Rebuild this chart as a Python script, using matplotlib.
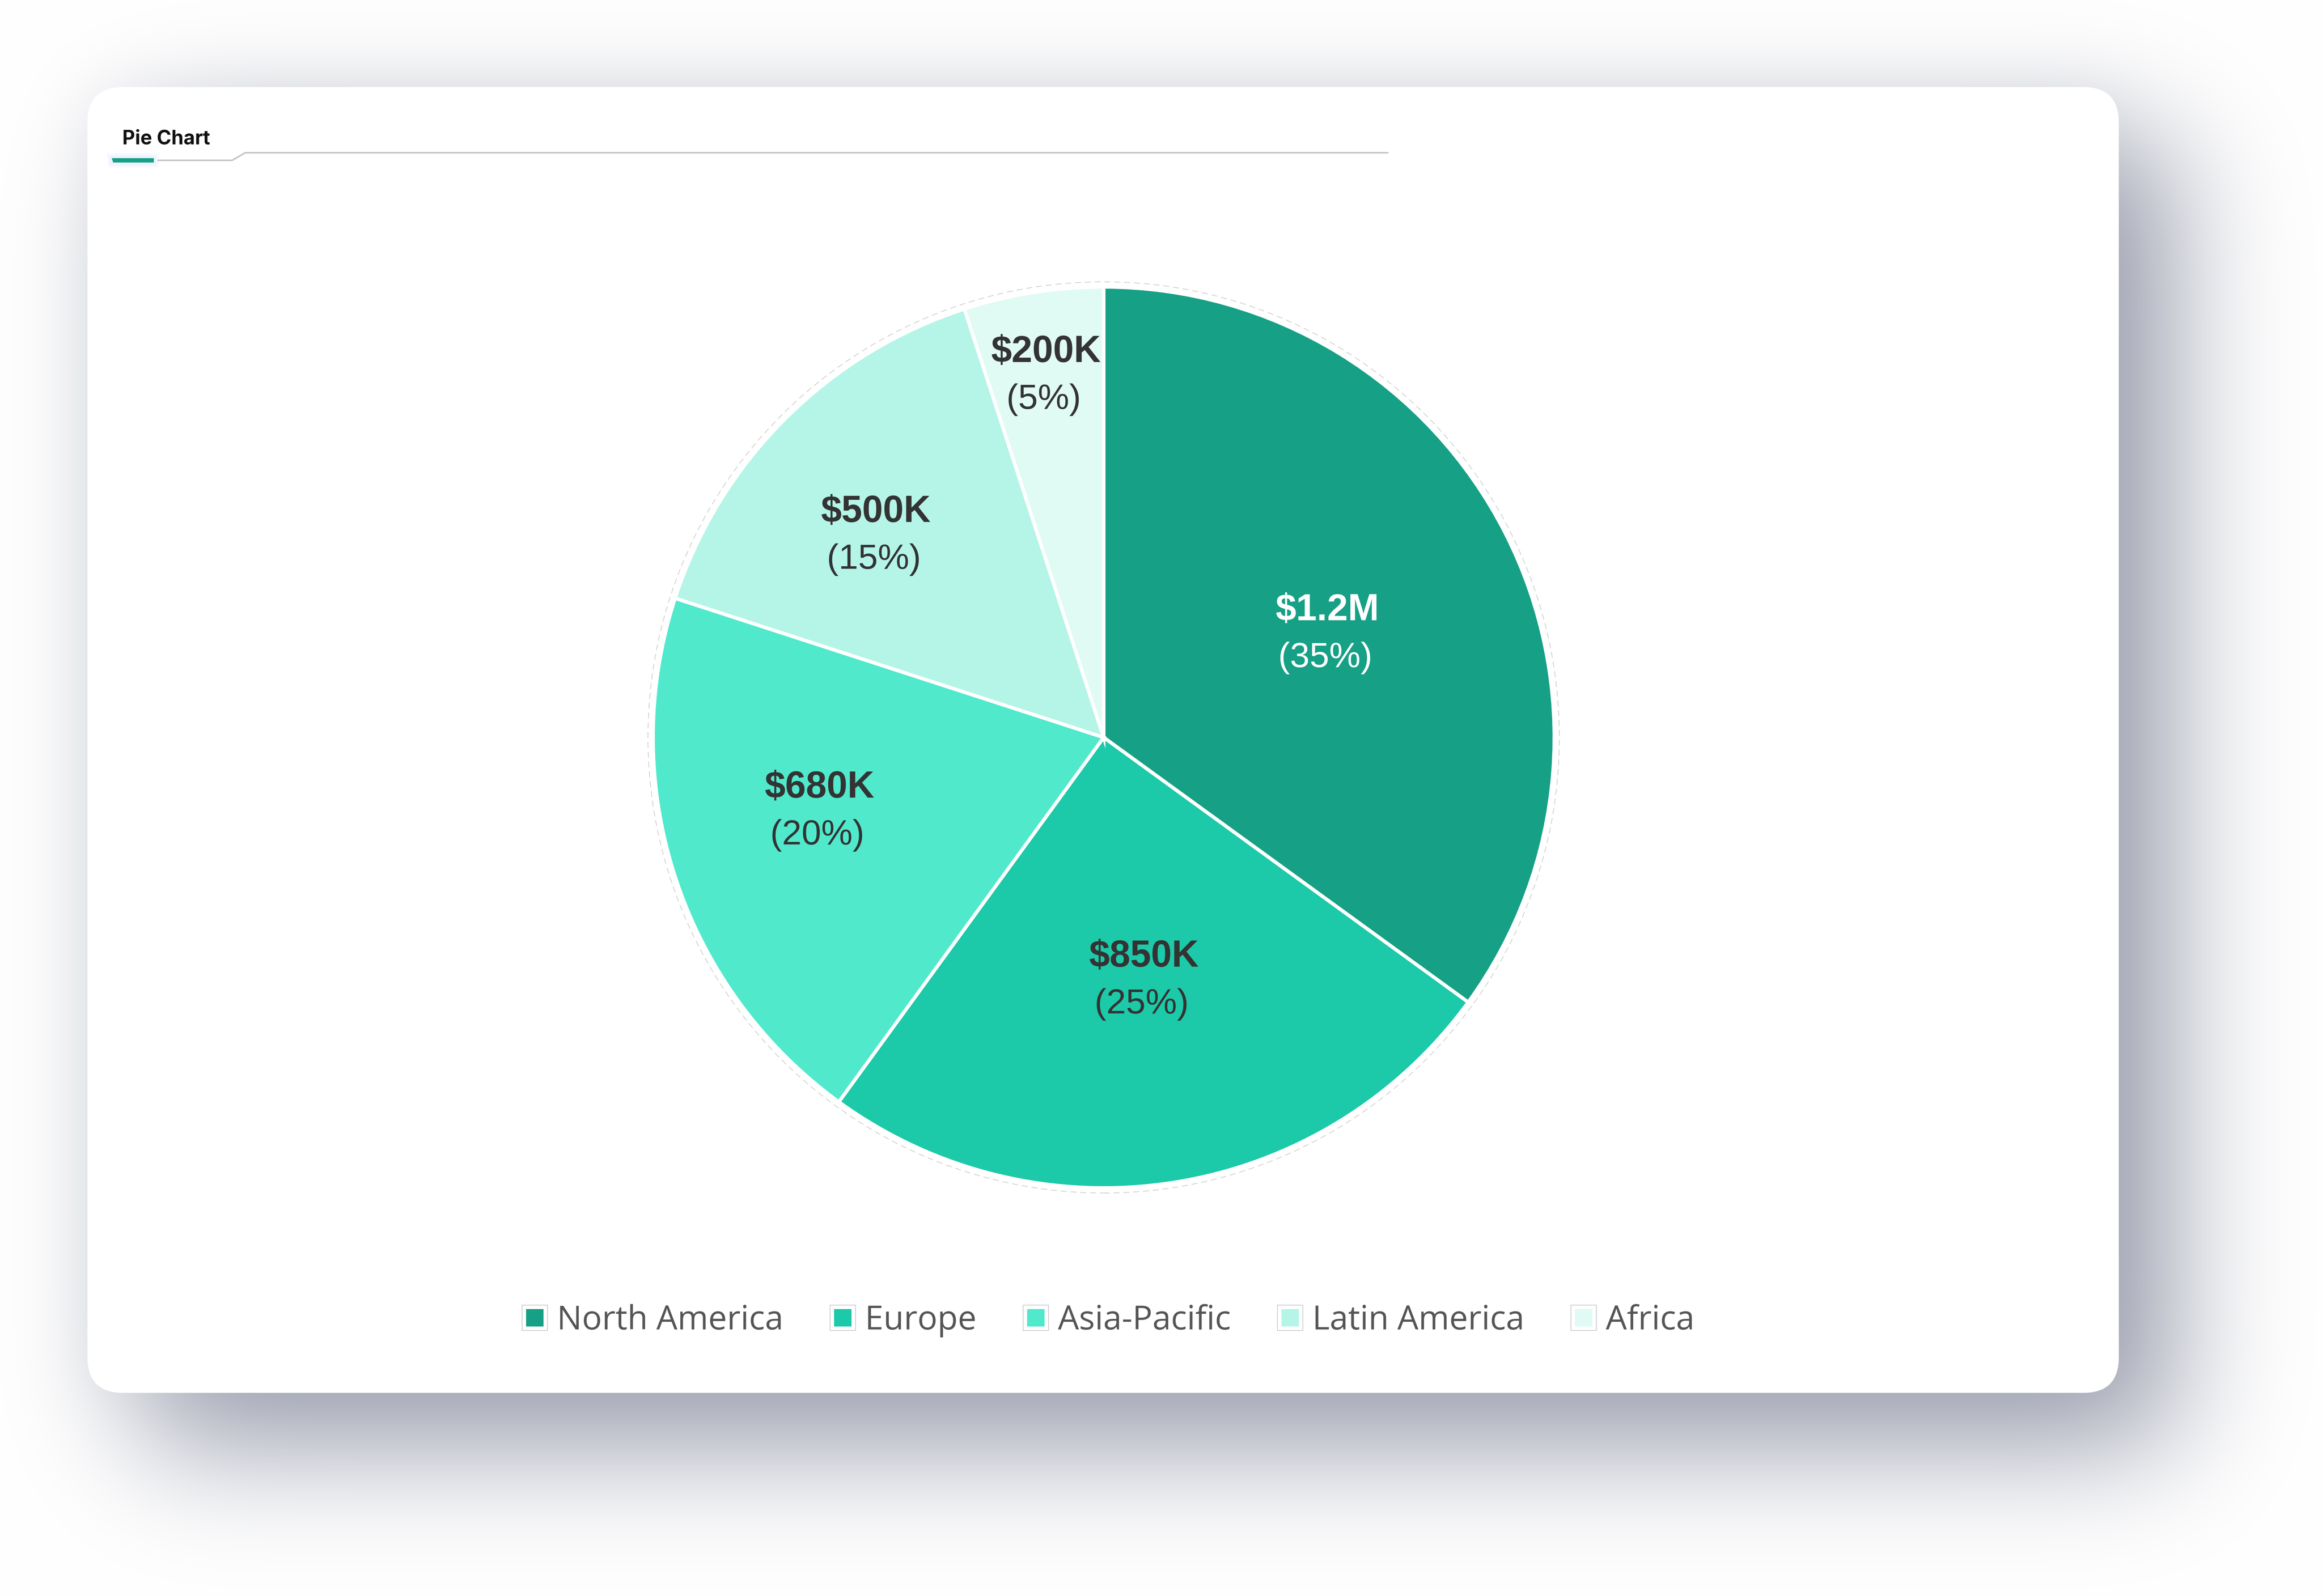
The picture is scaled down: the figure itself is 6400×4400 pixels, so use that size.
import math
import numpy as np
import matplotlib
matplotlib.use('Agg')
import matplotlib.pyplot as plt
from matplotlib.patches import FancyBboxPatch, Polygon, Circle
from matplotlib.lines import Line2D
from matplotlib.legend_handler import HandlerTuple

# Chart data
regions = ['North America', 'Europe', 'Asia-Pacific', 'Latin America', 'Africa']
revenue_labels = ['$1.2M', '$850K', '$680K', '$500K', '$200K']
shares = [35, 25, 20, 15, 5]

# Styling
colors = ['#16a085', '#1cc9a8', '#50e9cc', '#b4f5e8', '#e0faf4']
label_colors = ['white', '#333333', '#333333', '#333333', '#333333']
label_dist = [0.55, 0.54, 0.65, 0.68, 0.82]     # fraction of radius
label_turn = [-1.5, 0.5, -4.0, 3.0, 0.0]        # degrees off the wedge middle

W, H = 6400, 4400
fig = plt.figure(figsize=(W / 100, H / 100), dpi=100)
fig.patch.set_facecolor('white')

# background axes in pixel coordinates (y down)
bg = fig.add_axes([0, 0, 1, 1])
bg.axis('off')

# card shadow: gaussian-blurred rectangles (separable erf)
erf = np.vectorize(math.erf)


def blur_box(coords, lo, hi, sigma):
    s = sigma * math.sqrt(2)
    return 0.5 * (erf((coords - lo) / s) - erf((coords - hi) / s))


card_l, card_t, card_r, card_b = 241, 240, 5840, 3840
xs = np.arange(0, W, 8) + 4.0
ys = np.arange(0, H, 8) + 4.0
main = blur_box(ys, card_t + 150, card_b + 150, 170)[:, None] * \
    blur_box(xs, card_l + 150, card_r + 150, 170)[None, :]
ambient = blur_box(ys, card_t, card_b, 90)[:, None] * \
    blur_box(xs, card_l, card_r, 90)[None, :]

img = np.ones((len(ys), len(xs), 3))
shade_main = np.array([100, 106, 130]) / 255
shade_amb = np.array([150, 155, 170]) / 255
a = (0.65 * main)[..., None]
img = img * (1 - a) + shade_main * a
a = (0.15 * ambient)[..., None]
img = img * (1 - a) + shade_amb * a
bg.imshow(img, extent=(0, W, H, 0), interpolation='bilinear', aspect='auto', zorder=0)
bg.set_xlim(0, W)
bg.set_ylim(H, 0)

card = FancyBboxPatch((card_l, card_t), card_r - card_l, card_b - card_t,
                      boxstyle='round,pad=0,rounding_size=98',
                      fc='white', ec='none', zorder=1)
bg.add_patch(card)

# tab header
bg.text(337, 397, 'Pie Chart', fontsize=39, fontweight='bold',
        family=['Inter', 'Roboto', 'DejaVu Sans'], color='#111111',
        ha='left', va='baseline', zorder=3)
for g in [14, 10, 6, 3]:
    bg.add_patch(Polygon([(308 - g, 436 - g), (424 + g, 436 - g), (424 + g, 448 + g), (312 - g, 448 + g)],
                         closed=True, fc='#dce8ff', ec='none', alpha=0.18, zorder=2))
bg.add_patch(Polygon([(308, 436), (424, 436), (424, 448), (312, 448)],
                     closed=True, fc='#16a085', ec='none', zorder=3))
bg.plot([436, 640, 676, 3825], [442, 442, 421, 421], color='#c3c3c3', lw=3,
        solid_joinstyle='miter', zorder=3)

# pie axes: centre (3042, 2033) px, 1 unit = 1000 px
cx, cy, half = 3042, 2033, 1400
ax = fig.add_axes([(cx - half) / W, (H - cy - half) / H, 2 * half / W, 2 * half / H])
R = 1.242
ax.pie(shares, colors=colors, startangle=90, counterclock=False, radius=R,
       wedgeprops=dict(edgecolor='white', linewidth=7))
ax.add_patch(Circle((0, 0), R + 0.014, fill=False, ec='#cfcfcf', lw=1.5,
                    linestyle=(0, (8, 5)), zorder=0))
ax.set_xlim(-1.4, 1.4)
ax.set_ylim(-1.4, 1.4)
ax.set_aspect('equal')
ax.axis('off')

label_font = ['Liberation Sans', 'DejaVu Sans']
total = sum(shares)
cum = 0
for lab, s, col, d, t in zip(revenue_labels, shares, label_colors, label_dist, label_turn):
    theta = math.radians(90 - (cum + s / 2) / total * 360 + t)
    cum += s
    x, y = d * R * math.cos(theta), d * R * math.sin(theta)
    ax.text(x, y + 0.029, lab, ha='center', va='baseline', fontsize=74,
            fontweight='bold', color=col, family=label_font)
    ax.text(x - 0.006, y - 0.100, f'({s}%)', ha='center', va='baseline', fontsize=70,
            color=col, family=label_font)

# legend
handles = [(Line2D([], [], ls='', marker='s', markersize=50, mfc='white', mec='#cccccc', mew=1.5),
            Line2D([], [], ls='', marker='s', markersize=35, mfc=c, mec=c, mew=0))
           for c in colors]
fig.legend(handles, regions, handler_map={tuple: HandlerTuple(ndivide=1)},
           loc='center', bbox_to_anchor=(3055 / W, 1 - 3641 / H), ncol=5, frameon=False,
           prop={'family': ['Open Sans', 'DejaVu Sans'], 'size': 66}, labelcolor='#555555',
           handlelength=0.76, handletextpad=0.28, columnspacing=1.41)

fig.savefig('out.png', dpi=100)
